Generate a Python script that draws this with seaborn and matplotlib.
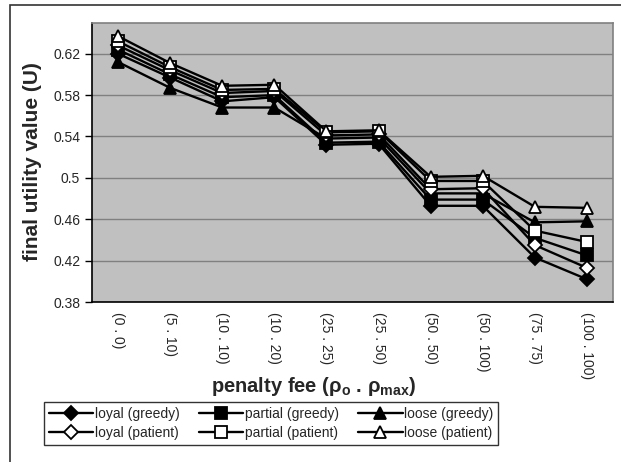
import numpy as np
import pandas as pd
import matplotlib
matplotlib.use("Agg")
import matplotlib.pyplot as plt
import seaborn as sns
from matplotlib.patches import Rectangle

categories = ["(0 . 0)", "(5 . 10)", "(10 . 10)", "(10 . 20)", "(25 . 25)",
              "(25 . 50)", "(50 . 50)", "(50 . 100)", "(75 . 75)", "(100 . 100)"]

loyal_greedy = [0.620, 0.597, 0.574, 0.578, 0.532, 0.533, 0.473, 0.473, 0.423, 0.402]
partial_greedy = [0.624, 0.600, 0.578, 0.580, 0.534, 0.535, 0.479, 0.479, 0.442, 0.425]
loose_greedy = [0.612, 0.587, 0.568, 0.568, 0.538, 0.539, 0.485, 0.485, 0.457, 0.458]
loyal_patient = [0.628, 0.604, 0.582, 0.584, 0.541, 0.542, 0.489, 0.490, 0.435, 0.413]
partial_patient = [0.632, 0.607, 0.585, 0.586, 0.544, 0.545, 0.497, 0.497, 0.449, 0.438]
loose_patient = [0.637, 0.611, 0.589, 0.590, 0.545, 0.546, 0.501, 0.502, 0.472, 0.471]

series = {
    "loyal (greedy)": (loyal_greedy, "D", "black"),
    "loyal (patient)": (loyal_patient, "D", "white"),
    "partial (greedy)": (partial_greedy, "s", "black"),
    "partial (patient)": (partial_patient, "s", "white"),
    "loose (greedy)": (loose_greedy, "^", "black"),
    "loose (patient)": (loose_patient, "^", "white"),
}
draw_order = ["loyal (greedy)", "partial (greedy)", "loose (greedy)",
              "loyal (patient)", "partial (patient)", "loose (patient)"]

sns.set_style("white")
plt.rcParams["font.family"] = ["Liberation Sans", "DejaVu Sans"]
plt.rcParams["mathtext.fontset"] = "custom"
plt.rcParams["mathtext.rm"] = "Liberation Sans"
plt.rcParams["mathtext.bf"] = "Liberation Sans:bold"

fig = plt.figure(figsize=(6.21, 4.62), dpi=100)
fig.patches.append(Rectangle((10 / 621, -0.1), 1.2, 1.1 - 5 / 462,
                             transform=fig.transFigure, fill=False,
                             edgecolor="#333333", linewidth=1.2))
ax = fig.add_axes([92 / 621, 1 - 302 / 462, 521 / 621, (302 - 22.7) / 462])
ax.set_facecolor("#C0C0C0")

x = np.arange(len(categories))
for name in draw_order:
    vals, mk, fc = series[name]
    sns.lineplot(x=x, y=vals, ax=ax, color="black", marker=mk,
                 markerfacecolor=fc, markeredgecolor="black",
                 markersize=8 if mk != "D" else 7, markeredgewidth=1.3,
                 linewidth=1.7, label=name, zorder=3)

ax.set_ylim(0.38, 0.65)
ax.set_yticks(np.arange(0.38, 0.63, 0.04))
ax.set_yticklabels(["0.38", "0.42", "0.46", "0.5", "0.54", "0.58", "0.62"], fontsize=10)
ax.yaxis.grid(True, color="#808080", linewidth=1)
ax.xaxis.grid(False)
ax.set_axisbelow(True)

ax.set_xlim(-0.5, len(categories) - 0.5)
ax.set_xticks(x)
ax.set_xticklabels(categories, rotation=-90, fontsize=10, va="top")
ax.set_xticks(np.arange(-0.5, len(categories)), minor=True)
ax.tick_params(axis="x", which="major", length=0, pad=7)
ax.tick_params(axis="x", which="minor", length=5, width=1, color="black", direction="out")
ax.tick_params(axis="y", length=5, width=1, color="black", direction="out", left=True)

for side in ["left", "bottom"]:
    ax.spines[side].set_color("black")
    ax.spines[side].set_linewidth(1.2)
for side in ["top", "right"]:
    ax.spines[side].set_color("#808080")
    ax.spines[side].set_linewidth(1.2)

fig.text(33 / 621, 1 - 162 / 462, "final utility value (U)", fontsize=15,
         fontweight="bold", rotation=90, ha="center", va="center")
fig.text(314 / 621, 1 - 386 / 462, "penalty fee (ρ$_\\mathbf{o}$ . ρ$_\\mathbf{max}$)",
         fontsize=14.5, fontweight="bold", ha="center", va="center")

h, l = ax.get_legend_handles_labels()
lookup = dict(zip(l, h))
order = ["loyal (greedy)", "loyal (patient)", "partial (greedy)",
         "partial (patient)", "loose (greedy)", "loose (patient)"]
leg = fig.legend([lookup[k] for k in order], order, ncol=3, loc="center",
                 bbox_to_anchor=(271 / 621, 1 - 423.5 / 462), fontsize=10,
                 frameon=True, fancybox=False, edgecolor="black",
                 handlelength=3.2, handletextpad=0.1, columnspacing=1.4,
                 labelspacing=0.4, borderpad=0.35)
leg.get_frame().set_linewidth(1.0)
ax.get_legend().remove()

fig.savefig("out.png", dpi=100)
